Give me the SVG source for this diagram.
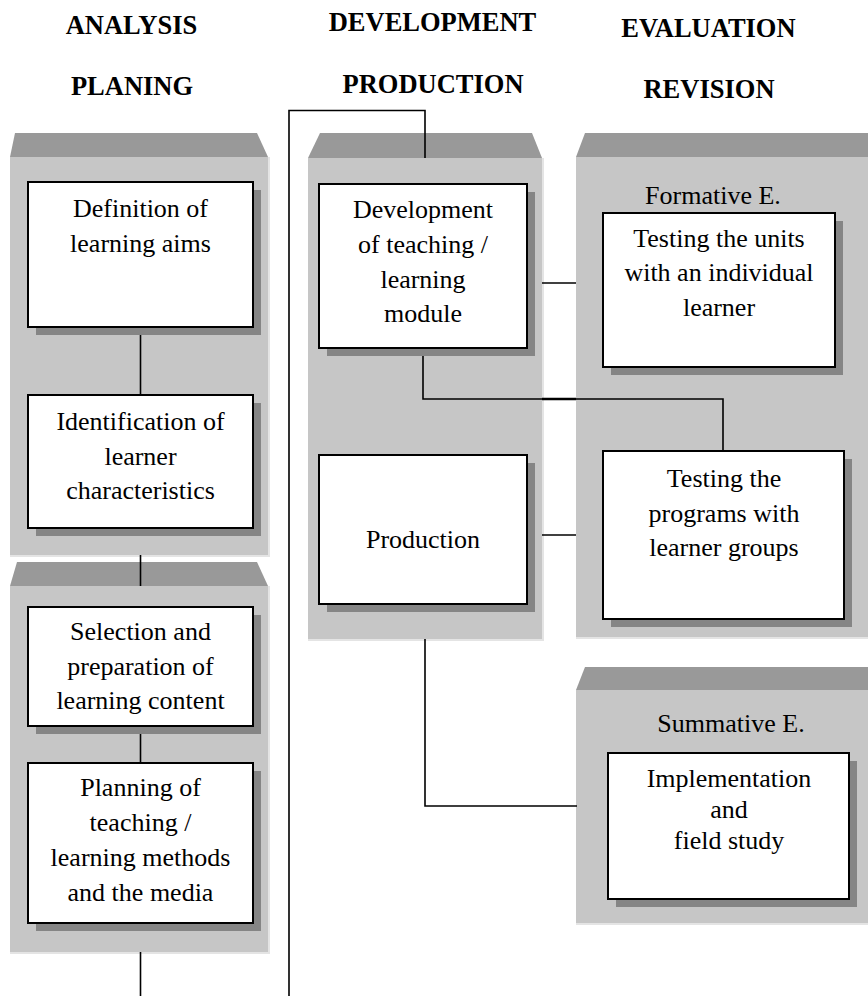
<svg xmlns="http://www.w3.org/2000/svg" width="868" height="996" viewBox="0 0 868 996">
  <style>
    .head { font-family: "Liberation Serif", "Times New Roman", serif; font-weight: bold; font-size: 26.5px; fill: #000; text-anchor: middle; }
    .lbl { font-family: "Liberation Serif", "Times New Roman", serif; font-size: 26px; fill: #000; text-anchor: middle; }
    .roof { fill: #999999; }
    .face { fill: #c6c6c6; }
    .rim { fill: #e4e4e4; }
    .shadow { fill: #858585; }
    .box { fill: #ffffff; stroke: #000; stroke-width: 2; }
    .wire { fill: none; stroke: #000; stroke-width: 1.6; }
  </style>

  <rect width="868" height="996" fill="#ffffff"/>

  <!-- phase headings -->
  <g id="headings">
    <text class="head" x="131.5" y="34">ANALYSIS</text>
    <text class="head" x="132" y="95">PLANING</text>
    <text class="head" x="432.5" y="31">DEVELOPMENT</text>
    <text class="head" x="433" y="93">PRODUCTION</text>
    <text class="head" x="708.5" y="37">EVALUATION</text>
    <text class="head" x="709" y="98">REVISION</text>
  </g>

  <!-- grey stage panels with bevelled tops -->
  <g id="panel-analysis">
    <polygon class="roof" points="15,133 257,133 268,157 10,157"/>
    <rect class="rim" x="10" y="157" width="260" height="400"/>
    <rect class="face" x="10" y="157" width="258" height="398"/>
  </g>
  <g id="panel-planning">
    <polygon class="roof" points="17,562 257,562 268,586 10,586"/>
    <rect class="rim" x="10" y="586" width="260" height="368"/>
    <rect class="face" x="10" y="586" width="258" height="366"/>
  </g>
  <g id="panel-development">
    <polygon class="roof" points="320,133 532,133 542,158 308,158"/>
    <rect class="rim" x="308" y="158" width="236" height="483"/>
    <rect class="face" x="308" y="158" width="234" height="481"/>
  </g>
  <g id="panel-formative">
    <polygon class="roof" points="585,133 880,133 880,157 576,157"/>
    <rect class="rim" x="576" y="157" width="300" height="482"/>
    <rect class="face" x="576" y="157" width="300" height="480"/>
    <text class="lbl" x="713" y="204">Formative E.</text>
  </g>
  <g id="panel-summative">
    <polygon class="roof" points="585,667 880,667 880,690 576,690"/>
    <rect class="rim" x="576" y="690" width="300" height="235"/>
    <rect class="face" x="576" y="690" width="300" height="233"/>
    <text class="lbl" x="731" y="732">Summative E.</text>
  </g>

  <!-- connectors -->
  <g id="connectors">
    <line class="wire" x1="140.5" y1="327" x2="140.5" y2="395"/>
    <line class="wire" x1="140.5" y1="555" x2="140.5" y2="586"/>
    <line class="wire" x1="140.5" y1="726" x2="140.5" y2="763"/>
    <line class="wire" x1="140.5" y1="952" x2="140.5" y2="996"/>
    <polyline class="wire" points="289,996 289,110.5 425,110.5 425,158"/>
    <polyline class="wire" points="423,348 423,399 723,399 723,451"/>
    <line x1="542" y1="399" x2="576" y2="399" stroke="#000" stroke-width="2.6"/>
    <line class="wire" x1="542" y1="283" x2="576" y2="283"/>
    <line class="wire" x1="542" y1="535" x2="576" y2="535"/>
    <polyline class="wire" points="425,639 425,806 577,806"/>
  </g>

  <!-- process steps -->
  <g id="node-aims">
    <rect class="shadow" x="36" y="190" width="225" height="145"/>
    <rect class="box" x="28" y="182" width="225" height="145"/>
    <text class="lbl" x="140.5" y="217">Definition of</text>
    <text class="lbl" x="140.5" y="252">learning aims</text>
  </g>
  <g id="node-learners">
    <rect class="shadow" x="36" y="403" width="225" height="133"/>
    <rect class="box" x="28" y="395" width="225" height="133"/>
    <text class="lbl" x="140.5" y="430">Identification of</text>
    <text class="lbl" x="140.5" y="465">learner</text>
    <text class="lbl" x="140.5" y="499">characteristics</text>
  </g>
  <g id="node-content">
    <rect class="shadow" x="36" y="615" width="225" height="119"/>
    <rect class="box" x="28" y="607" width="225" height="119"/>
    <text class="lbl" x="140.5" y="640">Selection and</text>
    <text class="lbl" x="140.5" y="675">preparation of</text>
    <text class="lbl" x="140.5" y="709">learning content</text>
  </g>
  <g id="node-methods">
    <rect class="shadow" x="36" y="771" width="225" height="160"/>
    <rect class="box" x="28" y="763" width="225" height="160"/>
    <text class="lbl" x="140.5" y="796">Planning of</text>
    <text class="lbl" x="140.5" y="831">teaching /</text>
    <text class="lbl" x="140.5" y="866">learning methods</text>
    <text class="lbl" x="140.5" y="901">and the media</text>
  </g>
  <g id="node-module">
    <rect class="shadow" x="327" y="192" width="208" height="164"/>
    <rect class="box" x="319" y="184" width="208" height="164"/>
    <text class="lbl" x="423" y="218">Development</text>
    <text class="lbl" x="423" y="253">of teaching /</text>
    <text class="lbl" x="423" y="288">learning</text>
    <text class="lbl" x="423" y="322">module</text>
  </g>
  <g id="node-production">
    <rect class="shadow" x="327" y="463" width="208" height="149"/>
    <rect class="box" x="319" y="455" width="208" height="149"/>
    <text class="lbl" x="423" y="548">Production</text>
  </g>
  <g id="node-individual">
    <rect class="shadow" x="611" y="221" width="232" height="154"/>
    <rect class="box" x="603" y="213" width="232" height="154"/>
    <text class="lbl" x="719" y="247">Testing the units</text>
    <text class="lbl" x="719" y="281">with an individual</text>
    <text class="lbl" x="719" y="316">learner</text>
  </g>
  <g id="node-groups">
    <rect class="shadow" x="611" y="459" width="241" height="168"/>
    <rect class="box" x="603" y="451" width="241" height="168"/>
    <text class="lbl" x="724" y="487">Testing the</text>
    <text class="lbl" x="724" y="522">programs with</text>
    <text class="lbl" x="724" y="556">learner groups</text>
  </g>
  <g id="node-field">
    <rect class="shadow" x="616" y="761" width="241" height="146"/>
    <rect class="box" x="608" y="753" width="241" height="146"/>
    <text class="lbl" x="729" y="787">Implementation</text>
    <text class="lbl" x="729" y="818">and</text>
    <text class="lbl" x="729" y="849">field study</text>
  </g>
</svg>
